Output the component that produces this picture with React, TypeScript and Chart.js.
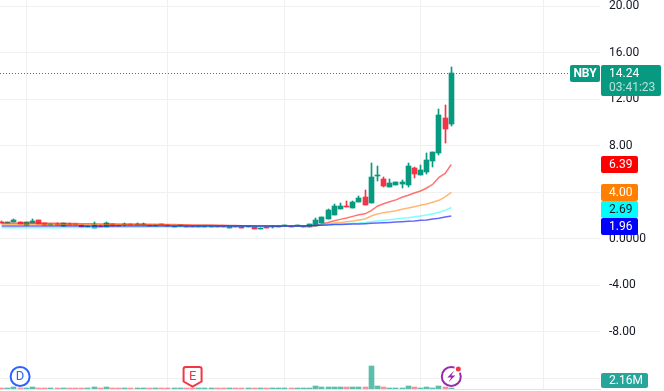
import React, { useEffect, useRef } from "react";
import { Chart, registerables } from "chart.js";

Chart.register(...registerables);

const opens = [1.47,1.39,1.45,1.42,1.19,1.39,1.62,1.39,1.19,1.27,1.10,1.27,1.27,1.19,1.04,0.93,1.13,1.04,1.30,1.19,1.16,1.19,1.16,1.16,1.19,1.13,1.19,1.19,1.04,1.07,1.10,1.10,1.04,1.04,1.04,1.10,1.10,0.93,1.10,1.10,1.04,1.02,0.87,1.02,1.02,1.04,1.07,1.13,1.07,1.05,1.02,1.10,1.36,1.70,2.05,2.56,2.82,2.65,3.17,3.60,3.08,5.40,5.14,4.46,4.63,4.71,4.63,6.09,5.49,5.75,6.69,7.38,10.39,9.90];
const closes = [1.39,1.45,1.62,1.30,1.45,1.56,1.27,1.19,1.27,1.19,1.36,1.19,1.19,1.04,1.10,1.19,1.04,1.36,1.10,1.13,1.24,1.16,1.24,1.24,1.13,1.16,1.16,1.13,1.10,1.13,1.04,1.04,1.10,1.10,1.10,1.04,1.04,1.10,1.04,0.93,1.10,0.84,0.93,0.93,1.04,1.10,1.10,1.04,1.10,1.10,1.27,1.62,1.88,2.48,2.82,2.82,2.74,3.17,3.51,2.91,5.32,5.49,4.54,4.80,4.89,4.89,6.26,5.57,5.92,6.78,7.47,10.65,9.45,14.24];
const highs = [1.56,1.45,1.70,1.45,1.45,1.70,1.62,1.39,1.27,1.36,1.39,1.33,1.30,1.19,1.10,1.45,1.16,1.45,1.30,1.19,1.36,1.19,1.36,1.36,1.19,1.19,1.19,1.19,1.10,1.13,1.10,1.10,1.10,1.10,1.10,1.10,1.10,1.10,1.10,1.10,1.10,1.02,0.93,1.02,1.04,1.10,1.10,1.13,1.10,1.10,1.27,1.79,1.88,2.56,2.99,3.08,3.25,3.25,3.68,4.20,6.52,6.26,5.32,5.14,4.89,5.06,6.52,6.18,6.35,7.38,7.47,11.17,11.51,14.78];
const lows = [1.39,1.39,1.45,1.30,1.19,1.39,1.27,1.19,1.19,1.19,1.10,1.19,1.19,1.04,1.04,0.93,1.02,1.04,1.10,1.13,1.13,1.16,1.16,1.16,1.13,1.13,1.16,1.13,1.04,1.07,1.04,1.04,1.04,1.04,1.04,1.04,1.04,0.93,1.04,0.93,1.04,0.84,0.84,0.93,0.93,1.04,1.07,1.04,1.07,1.05,1.02,1.10,1.36,1.70,2.05,2.56,2.74,2.65,3.17,2.91,3.08,4.97,4.46,4.46,4.63,4.37,4.46,5.23,5.49,5.57,6.18,7.21,8.24,9.70];
const volumes = [1,1,3.5,1,1,3.5,1,1,1,1,1,1,1,1,1,3.5,1,3.5,1,1,1,1,1,1,1,1,1,1,1,1,1,1,1,1,1,1,1,1,1,1,1,1,1,1,1,1,1,1,1,1.7,2.2,5.5,3.8,3.8,3.8,3.8,3.8,3.8,3.8,3.8,38,5.5,3.8,2,2,2,5.5,3.8,2,3.8,2,5.5,3.8,2.16];
const maRed = [1.33,1.33,1.33,1.33,1.33,1.34,1.34,1.33,1.33,1.33,1.32,1.32,1.31,1.30,1.29,1.29,1.28,1.28,1.27,1.27,1.26,1.26,1.26,1.25,1.25,1.25,1.24,1.23,1.22,1.21,1.20,1.19,1.19,1.18,1.18,1.17,1.16,1.15,1.14,1.13,1.12,1.11,1.10,1.10,1.10,1.10,1.10,1.11,1.11,1.10,1.10,1.12,1.27,1.41,1.55,1.67,1.79,1.93,2.07,2.15,2.42,2.80,3.01,3.18,3.35,3.57,3.74,3.94,4.11,4.37,4.69,5.29,5.63,6.39];
const maOrange = [1.25,1.25,1.25,1.25,1.25,1.25,1.25,1.25,1.25,1.24,1.24,1.24,1.23,1.23,1.22,1.22,1.21,1.21,1.20,1.20,1.20,1.19,1.19,1.19,1.18,1.18,1.18,1.17,1.17,1.16,1.16,1.15,1.15,1.14,1.14,1.14,1.13,1.13,1.12,1.12,1.12,1.11,1.11,1.10,1.10,1.10,1.10,1.10,1.10,1.10,1.10,1.16,1.25,1.30,1.36,1.41,1.47,1.53,1.62,1.70,1.96,2.13,2.25,2.33,2.42,2.54,2.65,2.76,2.88,2.99,3.14,3.31,3.60,4.00];
const maCyan = [0.95,0.95,0.95,0.95,0.95,0.95,0.96,0.96,0.96,0.96,0.97,0.97,0.97,0.98,0.98,0.98,0.98,0.99,0.99,0.99,1.00,1.00,1.00,1.00,1.01,1.01,1.01,1.02,1.02,1.02,1.03,1.03,1.04,1.04,1.05,1.05,1.06,1.06,1.07,1.07,1.08,1.08,1.08,1.09,1.09,1.10,1.10,1.10,1.10,1.10,1.13,1.16,1.19,1.22,1.25,1.27,1.30,1.33,1.36,1.41,1.47,1.53,1.59,1.64,1.70,1.76,1.82,1.90,1.96,2.05,2.16,2.28,2.45,2.69];
const maBlue = [1.10,1.10,1.10,1.10,1.10,1.10,1.10,1.10,1.10,1.10,1.10,1.10,1.10,1.10,1.10,1.10,1.10,1.10,1.10,1.10,1.10,1.10,1.10,1.10,1.10,1.10,1.10,1.10,1.10,1.10,1.10,1.10,1.10,1.10,1.10,1.10,1.10,1.10,1.10,1.10,1.10,1.10,1.10,1.10,1.10,1.10,1.10,1.10,1.10,1.10,1.13,1.16,1.16,1.19,1.22,1.22,1.25,1.27,1.27,1.30,1.33,1.36,1.39,1.41,1.44,1.47,1.50,1.53,1.59,1.62,1.70,1.76,1.88,1.96];

const priceTicks = [20, 16, 12, 8, 4, 0, -4, -8, -12];
const hiddenTicks = [-12];
const gridIndexes = [4, 27, 46, 68, 88];
const lastPrice = 14.24;
const symbol = "NBY";
const countdown = "03:41:23";
const volumeLabel = "2.16M";
const maBadges = [
  { value: 6.39, bg: "#ff0000", fg: "#ffffff" },
  { value: 4.0, bg: "#ff8000", fg: "#ffffff" },
  { value: 2.69, bg: "#00ffff", fg: "#131722" },
  { value: 1.96, bg: "#0000ff", fg: "#ffffff" },
];

const UP = "#089981";
const DOWN = "#f23645";
const GRID = "#f0f0f0";
const FONT = "Roboto, sans-serif";

const xs = opens.map((_, i) => i);
const isUp = (i: number) => closes[i] >= opens[i];

const snapBars = {
  id: "snapBars",
  beforeDatasetsDraw(chart: any) {
    chart.data.datasets.forEach((ds: any, idx: number) => {
      if (ds.type !== "bar") return;
      chart.getDatasetMeta(idx).data.forEach((el: any) => {
        el.x = Math.floor(el.x) + 0.5;
        const a = Math.round(el.y);
        let b = Math.round(el.base);
        if (a === b) b = a + 1;
        el.y = a;
        el.base = b;
      });
    });
  },
};

function box(ctx: any, x: number, y: number, w: number, h: number, color: string, r = 2) {
  ctx.fillStyle = color;
  ctx.beginPath();
  ctx.roundRect(x, y, w, h, r);
  ctx.fill();
}

const overlay = {
  id: "overlay",
  afterDraw(chart: any) {
    const { ctx, scales } = chart;
    const y = scales.y;
    const x = scales.x;
    const right = chart.chartArea.right;
    ctx.save();

    const py = Math.floor(y.getPixelForValue(lastPrice)) + 0.5;
    ctx.strokeStyle = UP;
    ctx.lineWidth = 1;
    ctx.setLineDash([1, 2]);
    ctx.beginPath();
    ctx.moveTo(0, py);
    ctx.lineTo(right - 30, py);
    ctx.stroke();
    ctx.setLineDash([]);

    ctx.textBaseline = "middle";
    ctx.textAlign = "left";

    let prev = -100;
    maBadges.forEach((b) => {
      const c = Math.max(y.getPixelForValue(b.value), prev + 17);
      prev = c;
      box(ctx, right + 1, Math.round(c - 8.5), 37, 17, b.bg);
      ctx.fillStyle = b.fg;
      ctx.font = `12px ${FONT}`;
      ctx.fillText(b.value.toFixed(2), right + 9, c + 0.5);
    });

    box(ctx, right - 30, py - 8.5, 30, 17, UP);
    ctx.fillStyle = "#ffffff";
    ctx.font = `bold 12px ${FONT}`;
    ctx.textAlign = "center";
    ctx.fillText(symbol, right - 15, py + 0.5);
    ctx.textAlign = "left";
    box(ctx, right + 1, py - 8.5, 60, 31, UP);
    ctx.fillStyle = "#ffffff";
    ctx.font = `12px ${FONT}`;
    ctx.fillText(lastPrice.toFixed(2), right + 9, py + 0.5);
    ctx.fillStyle = "rgba(255,255,255,0.7)";
    ctx.fillText(countdown, right + 9, py + 14.5);

    box(ctx, right + 1, 373, 47, 15, "#26a69a");
    ctx.fillStyle = "#ffffff";
    ctx.fillText(volumeLabel, right + 9, 381);

    const my = 376.5;
    // D marker
    const dx = x.getPixelForValue(3);
    ctx.strokeStyle = "#2962ff";
    ctx.lineWidth = 2;
    ctx.fillStyle = "#ffffff";
    ctx.beginPath();
    ctx.arc(dx, my, 9.5, 0, Math.PI * 2);
    ctx.fill();
    ctx.stroke();
    ctx.fillStyle = "#2962ff";
    ctx.textAlign = "center";
    ctx.font = `13px ${FONT}`;
    ctx.fillText("D", dx, my + 0.5);

    // E marker
    const ex = x.getPixelForValue(31);
    ctx.strokeStyle = "#f23645";
    ctx.fillStyle = "#ffffff";
    ctx.beginPath();
    ctx.moveTo(ex - 7, 367);
    ctx.lineTo(ex + 7, 367);
    ctx.quadraticCurveTo(ex + 9, 367, ex + 9, 369);
    ctx.lineTo(ex + 9, 381.5);
    ctx.lineTo(ex, 386.5);
    ctx.lineTo(ex - 9, 381.5);
    ctx.lineTo(ex - 9, 369);
    ctx.quadraticCurveTo(ex - 9, 367, ex - 7, 367);
    ctx.closePath();
    ctx.fill();
    ctx.stroke();
    ctx.fillStyle = "#f23645";
    ctx.fillText("E", ex, my);

    // Lightning marker
    const lx = x.getPixelForValue(73);
    ctx.strokeStyle = "#9c27b0";
    ctx.lineWidth = 2;
    ctx.fillStyle = "#ffffff";
    ctx.beginPath();
    ctx.arc(lx, my, 9.5, 0, Math.PI * 2);
    ctx.fill();
    ctx.stroke();
    ctx.fillStyle = "#9c27b0";
    ctx.beginPath();
    ctx.moveTo(lx + 3, my - 6);
    ctx.lineTo(lx - 4, my + 1);
    ctx.lineTo(lx, my + 1);
    ctx.lineTo(lx - 3, my + 6);
    ctx.lineTo(lx + 4, my - 1);
    ctx.lineTo(lx, my - 1);
    ctx.closePath();
    ctx.fill();
    ctx.fillStyle = "#ffffff";
    ctx.beginPath();
    ctx.arc(lx + 7, my - 7.5, 4, 0, Math.PI * 2);
    ctx.fill();
    ctx.fillStyle = "#f23645";
    ctx.beginPath();
    ctx.arc(lx + 7, my - 7.5, 2.5, 0, Math.PI * 2);
    ctx.fill();

    ctx.restore();
  },
};

export default function App() {
  const ref = useRef<HTMLCanvasElement | null>(null);
  useEffect(() => {
    if (!ref.current) return;
    const line = (data: number[], color: string, order: number) => ({
      type: "line",
      data: xs.map((x) => ({ x, y: data[x] })),
      borderColor: color,
      borderWidth: 1.5,
      pointRadius: 0,
      tension: 0,
      yAxisID: "y",
      order,
    });
    const chart = new Chart(ref.current, {
      data: {
        datasets: [
          line(maBlue, "rgba(0,0,255,0.6)", 1),
          line(maCyan, "rgba(0,255,255,0.5)", 2),
          line(maOrange, "rgba(255,128,0,0.55)", 3),
          line(maRed, "rgba(255,0,0,0.55)", 4),
          {
            type: "bar",
            data: xs.map((x) => ({ x, y: [opens[x], closes[x]] })),
            backgroundColor: xs.map((i) => (isUp(i) ? UP : DOWN)),
            barThickness: 5,
            grouped: false,
            minBarLength: 1,
            yAxisID: "y",
            order: 5,
          },
          {
            type: "bar",
            data: xs.map((x) => ({ x, y: [lows[x], highs[x]] })),
            backgroundColor: xs.map((i) => (isUp(i) ? UP : DOWN)),
            barThickness: 1,
            grouped: false,
            minBarLength: 1,
            yAxisID: "y",
            order: 6,
          },
          {
            type: "bar",
            data: xs.map((x) => ({ x, y: volumes[x] })),
            backgroundColor: xs.map((i) => (isUp(i) ? "rgba(8,153,129,0.65)" : "rgba(242,54,69,0.55)")),
            barThickness: 5,
            grouped: false,
            minBarLength: 1,
            yAxisID: "v",
            order: 7,
          },
        ],
      } as any,
      options: {
        responsive: false,
        animation: false,
        layout: { padding: { bottom: 2 } },
        plugins: { legend: { display: false }, tooltip: { enabled: false } },
        scales: {
          x: {
            type: "linear",
            offset: false,
            min: -0.263,
            max: 97.14,
            afterBuildTicks: (s: any) => {
              s.ticks = gridIndexes.map((value) => ({ value }));
            },
            afterFit: (s: any) => {
              s.height = 0;
              s.paddingLeft = 0;
              s.paddingRight = 0;
            },
            grid: { color: GRID, drawTicks: false, offset: false },
            border: { color: "#e4e4e4" },
            ticks: { display: false },
          },
          y: {
            type: "linear",
            position: "right",
            min: -12.92,
            max: 20.54,
            afterBuildTicks: (s: any) => {
              s.ticks = priceTicks.map((value) => ({ value }));
            },
            afterFit: (s: any) => {
              s.width = 64;
              s.paddingTop = 0;
              s.paddingBottom = 0;
            },
            grid: { color: GRID, drawTicks: false },
            border: { display: false },
            ticks: {
              color: "#131722",
              padding: 9,
              crossAlign: "near",
              font: { family: FONT, size: 12 },
              callback: (v: any) => {
                const n = Number(v);
                if (hiddenTicks.includes(n)) return "";
                return n === 0 ? "0.0000" : n.toFixed(2);
              },
            },
          },
          v: {
            type: "linear",
            display: false,
            min: 0,
            max: 648,
          },
        },
      } as any,
      plugins: [snapBars, overlay],
    } as any);
    return () => chart.destroy();
  }, []);
  return (
    <div style={{ position: "absolute", left: 0, top: 0 }}>
      <canvas ref={ref} width={664} height={391} style={{ display: "block" }} />
    </div>
  );
}
